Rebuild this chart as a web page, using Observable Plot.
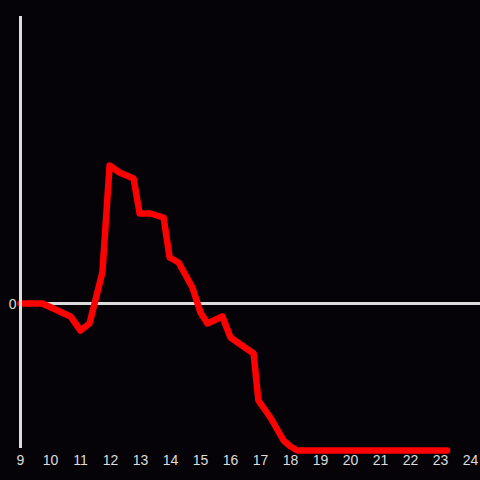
<!DOCTYPE html>
<html>
<head>
<meta charset="utf-8">
<script src="https://cdn.jsdelivr.net/npm/d3@7"></script>
<script src="https://cdn.jsdelivr.net/npm/@observablehq/plot@0.6"></script>
<style>
  html, body { margin: 0; padding: 0; background: #050308; }
</style>
</head>
<body>
<div id="chart"></div>
<script>
const hours = [9.0, 9.73, 10.67, 11.0, 11.3, 11.73, 11.97, 12.3, 12.77, 12.97, 13.33, 13.77, 13.97, 14.27, 14.73, 15.0, 15.23, 15.73, 16.0, 16.77, 16.93, 17.33, 17.77, 18.0, 18.23, 23.22];
const values = [0, 0, -13, -27, -20, 31, 138, 131, 125, 90, 90, 86, 46, 41, 16, -9, -20, -13, -34, -50, -97, -114, -137, -143, -147, -147];
const xTicks = [9, 10, 11, 12, 13, 14, 15, 16, 17, 18, 19, 20, 21, 22, 23, 24];
const yTicks = [0];

const data = hours.map((h, i) => ({h, v: values[i]}));

const chart = Plot.plot({
  width: 480,
  height: 480,
  marginLeft: 20,
  marginRight: 10,
  marginTop: 16,
  marginBottom: 32,
  style: {background: "#050308", color: "#dddddd", fontFamily: "'Liberation Sans', Arial, sans-serif", fontSize: "14px"},
  x: {domain: [9, 24], ticks: xTicks, tickFormat: d => String(d), label: null},
  y: {domain: [-145, 287], label: null},
  marks: [
    Plot.ruleY([0], {x1: 9, x2: 24.4, stroke: "#dddddd", strokeWidth: 3}),
    Plot.line(data, {x: "h", y: "v", stroke: "#ff0000", strokeWidth: 6.5, strokeLinejoin: "round", strokeLinecap: "round"}),
    Plot.ruleX([9], {stroke: "#dddddd", strokeWidth: 3}),
    Plot.axisX({ticks: xTicks, tickSize: 0, tickPadding: 7, fill: "#dddddd", fontSize: 14, label: null}),
    Plot.axisY({ticks: yTicks, tickSize: 0, tickPadding: 4, fill: "#dddddd", fontSize: 14, label: null, dy: 1})
  ]
});
document.getElementById("chart").appendChild(chart);
</script>
</body>
</html>
